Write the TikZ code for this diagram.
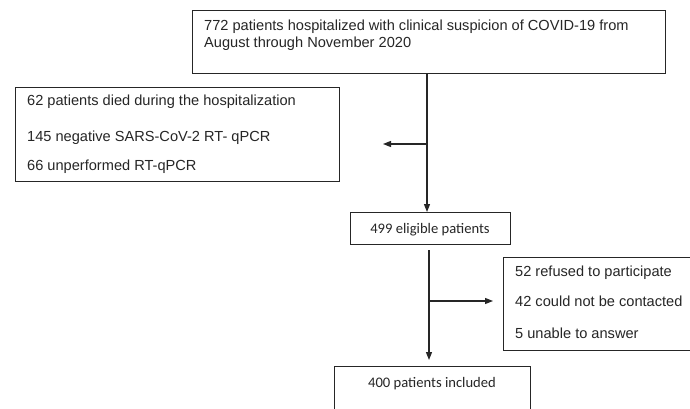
\documentclass[tikz,border=0pt]{standalone}
\usepackage{fontspec}
\setmainfont{Liberation Sans}
\newfontfamily\calib{Carlito}
\usetikzlibrary{arrows.meta}
\tikzset{
  box/.style={draw=black!85, line width=1.3pt, anchor=north west, inner sep=0pt},
  txt/.style={anchor=base west, inner sep=0pt, text=black!85, font=\fontsize{14.6}{17}\selectfont},
  ctxt/.style={anchor=base, inner sep=0pt, text=black!85, font=\calib\fontsize{14.6}{17}\selectfont},
  conn/.style={draw=black!85, line width=1.3pt},
  arr/.style={conn, -{Triangle[length=8pt,width=6pt]}}
}
\begin{document}
\begin{tikzpicture}[x=1pt,y=-1pt]
\useasboundingbox (0,0) rectangle (690,409);
\clip (0,0) rectangle (690,409);
\fill[white] (0,0) rectangle (690,409);
% boxes
\node[box, minimum width=473pt, minimum height=63pt] (top) at (192,10) {};
\node[box, minimum width=324pt, minimum height=94pt] (excl) at (15,87) {};
\node[box, minimum width=160pt, minimum height=32pt] (elig) at (350,212) {};
\node[box, minimum width=200pt, minimum height=93pt] (lost) at (503,257) {};
\node[box, minimum width=196pt, minimum height=60pt] (incl) at (334,366) {};
% texts
\node[txt] (t1) at (204,31) {772 patients hospitalized with clinical suspicion of COVID-19 from};
\node[txt] (t2) at (204,48) {August through November 2020};
\node[txt] (e1) at (27,106) {62 patients died during the hospitalization};
\node[txt] (e2) at (27,142) {145 negative SARS-CoV-2 RT- qPCR};
\node[txt] (e3) at (27,170) {66 unperformed RT-qPCR};
\node[ctxt] (el) at (430,233) {499 eligible patients};
\node[txt] (l1) at (515,276) {52 refused to participate};
\node[txt] (l2) at (515,306) {42 could not be contacted};
\node[txt] (l3) at (515,338) {5 unable to answer};
\node[ctxt] (in) at (432,387) {400 patients included};
% connectors
\coordinate (j1) at (427,144);
\coordinate (x1) at (383,144);
\coordinate (j2) at (429,301);
\draw[arr] (top.south -| j1) -- (elig.north -| j1);
\draw[arr] (j1) -- (x1);
\draw[arr, shorten <=5pt, shorten >=6pt] (elig.south -| j2) -- (incl.north -| j2);
\draw[arr, shorten >=10pt] (j2) -- (j2 -| lost.west);
\end{tikzpicture}
\end{document}
